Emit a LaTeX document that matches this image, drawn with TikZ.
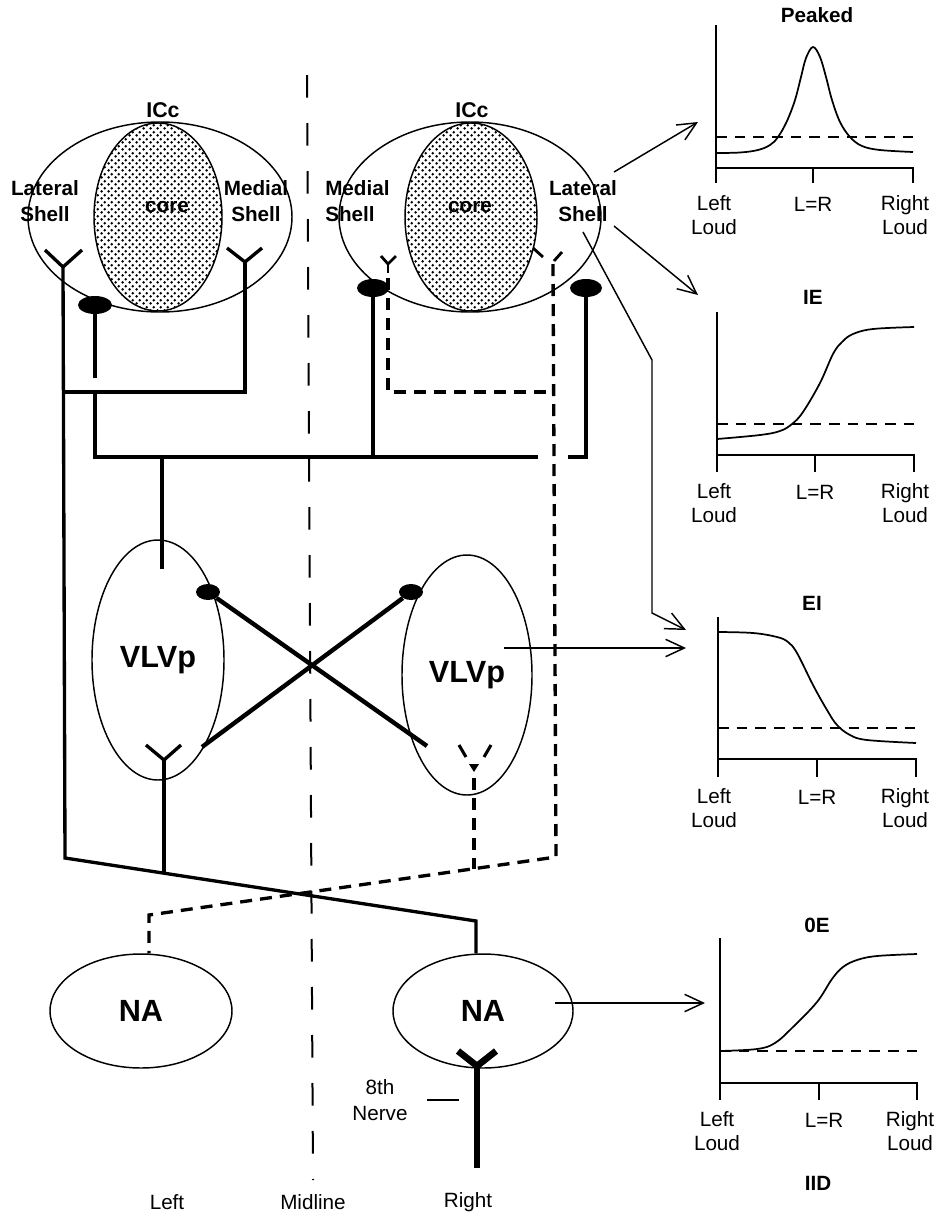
\documentclass[tikz,border=0pt]{standalone}
\usepackage{fontspec}
\setmainfont{Liberation Sans}
\usetikzlibrary{shapes.geometric,arrows.meta,patterns}
\pgfdeclarepatternformonly{stipple}{\pgfqpoint{0pt}{0pt}}{\pgfqpoint{5pt}{5pt}}{\pgfqpoint{5pt}{5pt}}{%
  \pgfpathcircle{\pgfqpoint{1.25pt}{1.25pt}}{1.1pt}%
  \pgfpathcircle{\pgfqpoint{3.75pt}{3.75pt}}{1.1pt}%
  \pgfusepath{fill}}
\begin{document}
\begin{tikzpicture}[x=0.75pt,y=-0.75pt,
  region/.style={draw, ellipse, line width=1.1pt, inner sep=0pt},
  blob/.style={fill=black, ellipse, inner sep=0pt},
  conn/.style={line width=2.5pt},
  dconn/.style={line width=2.5pt, dash pattern=on 9pt off 6pt},
  mid/.style={line width=1.5pt, dash pattern=on 17pt off 19pt},
  cross/.style={line width=3.3pt},
  nerve/.style={line width=5pt},
  fine/.style={line width=1.1pt},
  arr/.style={line width=1.1pt, -{Straight Barb[length=14pt,width=13pt,line width=1.1pt]}},
  gaxis/.style={line width=1.3pt},
  thr/.style={line width=1pt, dash pattern=on 8pt off 6pt},
  gcurve/.style={line width=1.3pt},
  lab/.style={font=\fontsize{15.5}{20}\selectfont\bfseries, align=center, inner sep=0pt},
  ticklab/.style={font=\fontsize{15.5}{17.5}\selectfont, align=center, inner sep=0pt},
  biglab/.style={font=\fontsize{23}{26}\selectfont\bfseries}
]
\useasboundingbox (0,0) rectangle (939,1218);

% midline
\coordinate (mtop) at (307,75);
\coordinate (mbot) at (313,1180);
\draw[mid] (mtop) -- (mbot);

% ICc regions
\node[region, minimum width=198pt, minimum height=142.5pt] (icL) at (160,217) {};
\node[region, pattern=stipple, minimum width=96pt, minimum height=141pt] (coreL) at (158,217) {};
\node[region, minimum width=196.5pt, minimum height=142.5pt] (icR) at (470,217) {};
\node[region, pattern=stipple, minimum width=99pt, minimum height=141pt] (coreR) at (471,217) {};

\node[lab, font=\fontsize{16}{20}\selectfont\bfseries] (icLt) at (163,110) {ICc};
\node[lab, font=\fontsize{16}{20}\selectfont\bfseries] (icRt) at (472,110) {ICc};
\node[lab] (latL) at (45,201) {Lateral\\Shell};
\node[lab] (medL) at (256,201) {Medial\\Shell};
\node[lab] (coreLt) at (167,207) {core};
\node[lab] (coreRt) at (470,207) {core};
\node[lab, align=left, anchor=west] (medR) at (325,201) {Medial\\Shell};
\node[lab] (latR) at (583,201) {Lateral\\Shell};

% blobs
\node[blob, minimum width=25.5pt, minimum height=13.5pt] (bL) at (95,305) {};
\node[blob, minimum width=24pt, minimum height=13.5pt] (bRm) at (373,288) {};
\node[blob, minimum width=24pt, minimum height=13.5pt] (bRl) at (586,288) {};

% VLVp
\node[region, biglab, minimum width=99pt, minimum height=180pt] (vL) at (158,660) {VLVp};
\node[region, biglab, minimum width=97.5pt, minimum height=180pt] (vR) at (467,675) {VLVp};
\node[blob, minimum width=18pt, minimum height=12pt] (bVL) at (208,592) {};
\node[blob, minimum width=18pt, minimum height=12pt] (bVR) at (411,592) {};

% NA
\node[region, biglab, minimum width=136.5pt, minimum height=85.5pt] (naL) at (141,1011) {NA};
\node[region, biglab, minimum width=135pt, minimum height=85.5pt] (naR) at (483,1011) {NA};

% ---- solid pathway (left ICc) ----
\coordinate (yLL) at (63,267);
\coordinate (yLLa) at (45,250);
\coordinate (yLLb) at (82,250);
\draw[conn] (yLLa) -- (yLL) -- (yLLb);
\coordinate (yLM) at (245,262);
\coordinate (yLMa) at (227,248);
\coordinate (yLMb) at (262,248);
\draw[conn] (yLMa) -- (yLM) -- (yLMb);
\coordinate (busA) at (64,392);
\coordinate (busB) at (245,392);
\coordinate (lowL) at (65,858);
\coordinate (jR) at (476,921);
\draw[conn] (yLL) -- (lowL) -- (jR) -- (jR |- naR.north);
\draw[conn] (yLM) -- (busB) -- (busA);
\coordinate (sL) at (95,378);
\draw[conn] (bL) -- (sL);
\coordinate (b1) at (95,392);
\coordinate (b2) at (95,457);
\coordinate (b3) at (538,457);
\draw[conn] (b1) -- (b2) -- (b3);
\coordinate (b4) at (162,457);
\coordinate (vLin) at (162,569);
\draw[conn] (b4) -- (vLin);
\draw[conn] (bRm) -- (bRm |- b2);
\coordinate (b5) at (568,457);
\draw[conn] (bRl) -- (bRl |- b2) -- (b5);

% ---- dashed pathway (right ICc) ----
\coordinate (yRM) at (388,264);
\coordinate (yRMa) at (381,256);
\coordinate (yRMb) at (396,256);
\coordinate (yRMs) at (388,273);
\draw[conn, line width=2.1pt] (yRMa) -- (yRM) -- (yRMb);
\draw[conn, line width=2.1pt] (yRM) -- (yRMs);
\coordinate (d1) at (388,392);
\coordinate (d2) at (553,392);
\draw[dconn, dash phase=-4pt] (yRMs) -- (d1) -- (d2);
\coordinate (dYa1) at (533,248);
\coordinate (dYa2) at (543,257);
\coordinate (dYb1) at (562,252);
\coordinate (dYb2) at (554,261);
\draw[conn, line width=2.1pt] (dYa1) -- (dYa2);
\draw[conn, line width=2.1pt] (dYb1) -- (dYb2);
\coordinate (dY) at (553,264);
\coordinate (dlow) at (556,857);
\coordinate (dj) at (149,915);
\draw[dconn] (dY) -- (dlow) -- (dj) -- (dj |- naL.north);

% ---- crossing VLVp projections ----
\coordinate (xA) at (427,746);
\coordinate (xB) at (202,747);
\draw[cross] (bVL) -- (xA);
\draw[cross] (xB) -- (bVR);

% left VLVp output
\coordinate (yVL) at (164,760);
\coordinate (yVLa) at (146,745);
\coordinate (yVLb) at (181,745);
\coordinate (jVL) at (164,873);
\draw[conn] (yVLa) -- (yVL) -- (yVLb);
\draw[conn] (yVL) -- (jVL);

% right VLVp output (dashed)
\coordinate (yVRa1) at (459,745);
\coordinate (yVRa2) at (466,757);
\coordinate (yVRb1) at (491,745);
\coordinate (yVRb2) at (484,757);
\draw[conn, line width=2.3pt] (yVRa1) -- (yVRa2);
\draw[conn, line width=2.3pt] (yVRb1) -- (yVRb2);
\fill (469,764) -- (479,764) -- (474,772) -- cycle;
\coordinate (yVRs) at (474,778);
\coordinate (jVR) at (474,869);
\draw[dconn] (yVRs) -- (jVR);

% 8th nerve
\coordinate (nY) at (477,1066);
\coordinate (nYa) at (458,1051);
\coordinate (nYb) at (496,1051);
\coordinate (nEnd) at (477,1168);
\draw[nerve] (nYa) -- (nY) -- (nYb);
\draw[nerve] (nY) -- (nEnd);
\node[ticklab, font=\fontsize{15.5}{19}\selectfont] (nlab) at (380,1100) {8th\\Nerve};
\coordinate (nt1) at (427,1100);
\coordinate (nt2) at (459,1100);
\draw[fine] (nt1) -- (nt2);

% bottom labels
\node[ticklab] (leftlab) at (167,1202) {Left};
\node[ticklab] (midlab) at (313,1202) {Midline};
\node[ticklab] (rightlab) at (468,1202) {Right};

% ---- arrows to graphs ----
\coordinate (a1s) at (614,172);
\coordinate (a1e) at (698,122);
\draw[arr] (a1s) -- (a1e);
\coordinate (a2s) at (614,226);
\coordinate (a2e) at (698,295);
\draw[arr] (a2s) -- (a2e);
\coordinate (l1) at (583,232);
\coordinate (l2) at (652,360);
\coordinate (l3) at (652,613);
\coordinate (l4) at (686,630);
\draw[arr] (l1) -- (l2) -- (l3) -- (l4);
\coordinate (v1) at (504,648);
\coordinate (v2) at (686,648);
\draw[arr] (v1) -- (v2);
\coordinate (n1) at (555,1003);
\coordinate (n2) at (705,1003);
\draw[arr] (n1) -- (n2);

% ---- Graph: Peaked ----
\node[lab] (tPk) at (817,15) {Peaked};
\draw[gaxis] (716,25) -- (716,183);
\draw[gaxis] (716,168) -- (913,168) -- (913,183);
\draw[gaxis] (813,168) -- (813,183);
\draw[thr] (716,137) -- (913,137);
\draw[gcurve] plot[smooth, tension=0.6] coordinates {(716,153) (740,152.5) (758,150) (770,145) (778,137) (787,121) (795,100) (801,77) (806,58) (813,47) (820,57) (826,77) (832,100) (840,122) (850,137) (862,146) (880,150) (913,152)};
\node[ticklab] (pkL) at (714,215) {Left\\Loud};
\node[ticklab] (pkM) at (813,204) {L=R};
\node[ticklab] (pkR) at (905,215) {Right\\Loud};

% ---- Graph: IE ----
\node[lab] (tIE) at (813,297) {IE};
\draw[gaxis] (717,312) -- (717,472);
\draw[gaxis] (717,455) -- (914,455) -- (914,472);
\draw[gaxis] (815,455) -- (815,472);
\draw[thr] (717,424) -- (914,424);
\draw[gcurve] plot[smooth, tension=0.6] coordinates {(717,439) (760,435) (780,431) (792,424) (803,412) (820,383) (833,354) (842,342) (853,334) (873,329) (914,327)};
\node[ticklab] (ieL) at (714,503) {Left\\Loud};
\node[ticklab] (ieM) at (815,492) {L=R};
\node[ticklab] (ieR) at (905,503) {Right\\Loud};

% ---- Graph: EI ----
\node[lab] (tEI) at (812,603) {EI};
\draw[gaxis] (718,617) -- (718,777);
\draw[gaxis] (718,759) -- (916,759) -- (916,777);
\draw[gaxis] (817,759) -- (817,777);
\draw[thr] (718,728) -- (916,728);
\draw[gcurve] plot[smooth, tension=0.6] coordinates {(718,632) (753,633) (777,637) (788,642) (797,653) (813,685) (827,710) (837,725) (850,735) (867,740) (916,743)};
\node[ticklab] (eiL) at (714,808) {Left\\Loud};
\node[ticklab] (eiM) at (817,797) {L=R};
\node[ticklab] (eiR) at (905,808) {Right\\Loud};

% ---- Graph: 0E ----
\node[lab] (tOE) at (817,925) {0E};
\draw[gaxis] (720,938) -- (720,1100);
\draw[gaxis] (720,1083) -- (917,1083) -- (917,1100);
\draw[gaxis] (819,1083) -- (819,1100);
\draw[thr] (720,1051) -- (917,1051);
\draw[gcurve] plot[smooth, tension=0.6] coordinates {(720,1051) (757,1049) (775,1043) (793,1027) (817,1002) (832,979) (843,967) (857,960) (877,956) (917,954)};
\node[ticklab] (oeL) at (717,1131) {Left\\Loud};
\node[ticklab] (oeM) at (824,1120) {L=R};
\node[ticklab] (oeR) at (910,1131) {Right\\Loud};
\node[lab] (tIID) at (818,1183) {IID};
\end{tikzpicture}
\end{document}
